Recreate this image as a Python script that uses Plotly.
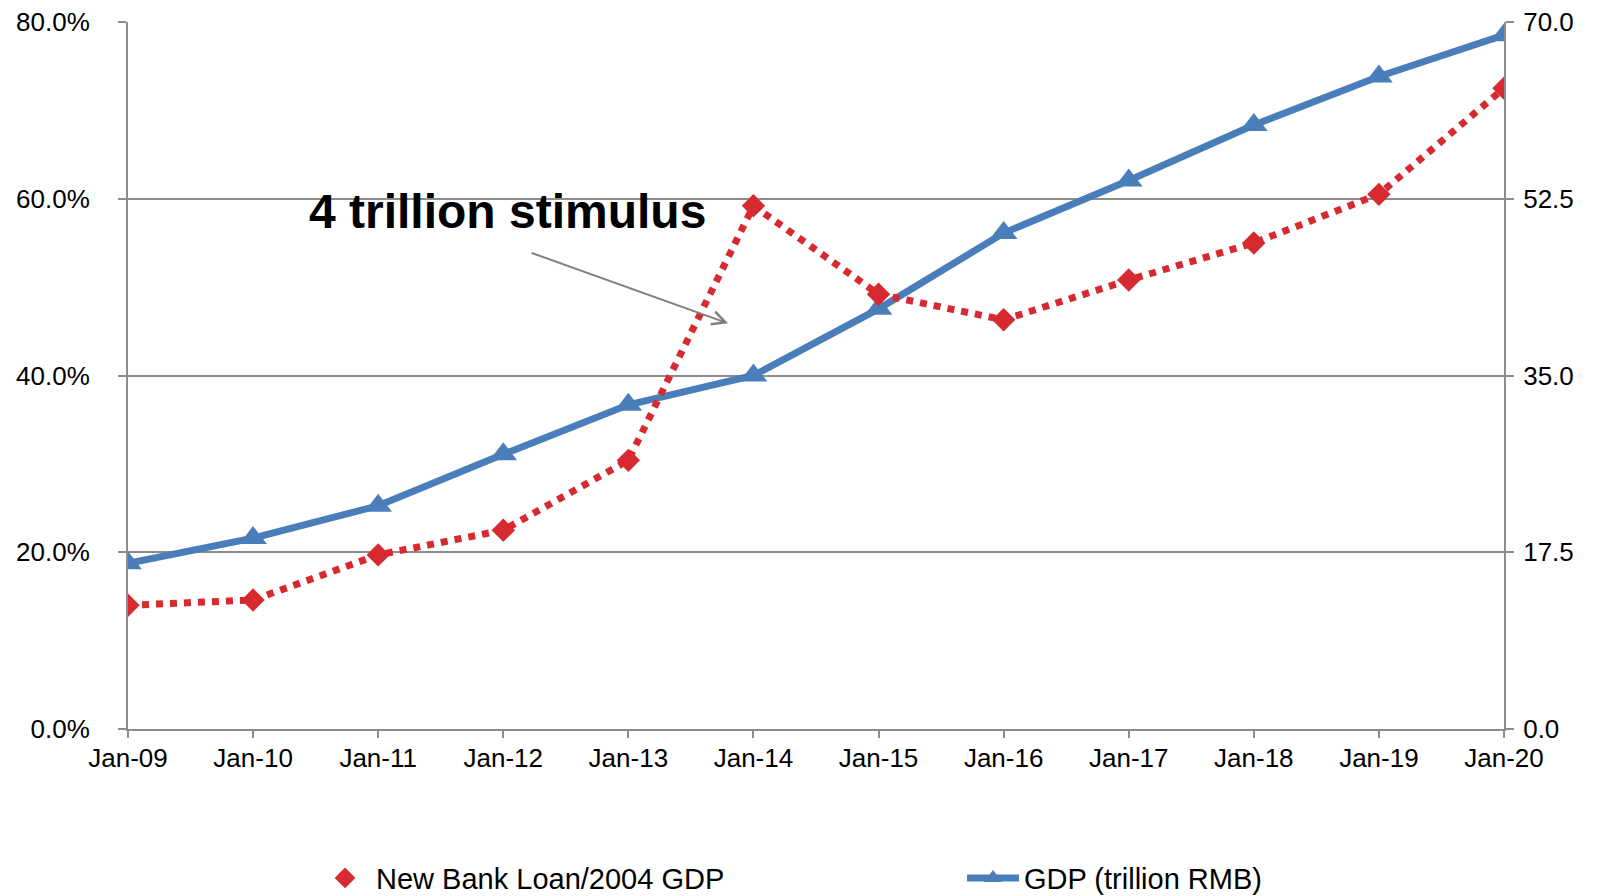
import plotly.graph_objects as go

categories = ["Jan-09", "Jan-10", "Jan-11", "Jan-12", "Jan-13", "Jan-14",
              "Jan-15", "Jan-16", "Jan-17", "Jan-18", "Jan-19", "Jan-20"]
loan_ratio = [0.140, 0.146, 0.197, 0.225, 0.304, 0.592,
              0.492, 0.463, 0.508, 0.550, 0.605, 0.725]
gdp = [16.4, 18.9, 22.1, 27.2, 32.1, 35.0, 41.6, 49.1, 54.3, 59.8, 64.6, 68.7]

left_ticks = [0, 0.2, 0.4, 0.6, 0.8]
right_ticks = [0, 17.5, 35.0, 52.5, 70.0]

RED = "#D62A30"
BLUE = "#4A7EBB"
GRID = "#8C8C8C"
FONT = "Liberation Sans, Arial, sans-serif"

xs = list(range(len(categories)))

fig = go.Figure()
fig.add_trace(go.Scatter(
    x=xs, y=gdp, name="GDP (trillion RMB)", mode="lines+markers",
    line=dict(color=BLUE, width=7),
    marker=dict(symbol="triangle-up", size=24, color=BLUE),
    yaxis="y", legend="legend2",
))
fig.add_trace(go.Scatter(
    x=xs, y=loan_ratio, name="New Bank Loan/2004 GDP", mode="lines+markers",
    line=dict(color=RED, width=7, dash="dot"),
    marker=dict(symbol="diamond", size=18, color=RED),
    yaxis="y2", showlegend=False,
))
# legend-only entry (diamond marker only, as in the original legend)
fig.add_trace(go.Scatter(
    x=[None], y=[None], name="New Bank Loan/2004 GDP", mode="markers",
    marker=dict(symbol="diamond", size=18, color=RED),
    yaxis="y2", legend="legend",
))

legend_common = dict(
    orientation="h", xanchor="left",
    yref="container", y=0.02, yanchor="middle",
    font=dict(size=29, family=FONT, color="black"), itemwidth=52,
    bgcolor="rgba(0,0,0,0)",
)

fig.update_layout(
    width=1603, height=896,
    margin=dict(l=128, r=99, t=22, b=167, autoexpand=False),
    paper_bgcolor="white", plot_bgcolor="white",
    font=dict(family=FONT, size=26, color="black"),
    showlegend=True,
    legend=dict(x=0.1352, **legend_common),
    legend2=dict(x=0.6061, **legend_common),
    xaxis=dict(
        range=[0, 11], tickmode="array", tickvals=xs, ticktext=categories,
        showgrid=False, zeroline=False, automargin=False,
        showline=True, linecolor=GRID, linewidth=2,
        ticks="outside", ticklen=7, tickcolor=GRID, tickwidth=2,
        ticklabelstandoff=-2,
    ),
    yaxis=dict(
        side="right", range=[0, 70], tickmode="array", tickvals=right_ticks,
        tickformat=".1f", automargin=False,
        showgrid=True, gridcolor=GRID, gridwidth=2, zeroline=False,
        showline=True, linecolor=GRID, linewidth=2,
        ticks="outside", ticklen=8, tickcolor=GRID, tickwidth=2,
        ticklabelstandoff=4,
    ),
    yaxis2=dict(
        side="left", overlaying="y", range=[0, 0.8], tickmode="array",
        tickvals=left_ticks, tickformat=".1%", automargin=False,
        showgrid=False, zeroline=False,
        showline=True, linecolor=GRID, linewidth=2,
        ticks="outside", ticklen=8, tickcolor=GRID, tickwidth=2,
        ticklabelstandoff=23,
    ),
)

fig.add_annotation(
    text="<b>4 trillion stimulus</b>", xref="x", yref="y2",
    x=3.03, y=0.5855, showarrow=False,
    font=dict(size=48, family=FONT, color="black"),
    xanchor="center", yanchor="middle",
)
fig.add_annotation(
    text="", xref="x", yref="y2", x=4.797, y=0.459,
    showarrow=True, arrowhead=5, arrowsize=1.3, arrowwidth=2,
    arrowcolor="#7F7F7F", ax=-198, ay=-71, standoff=0,
)

fig.write_html("out.html")
